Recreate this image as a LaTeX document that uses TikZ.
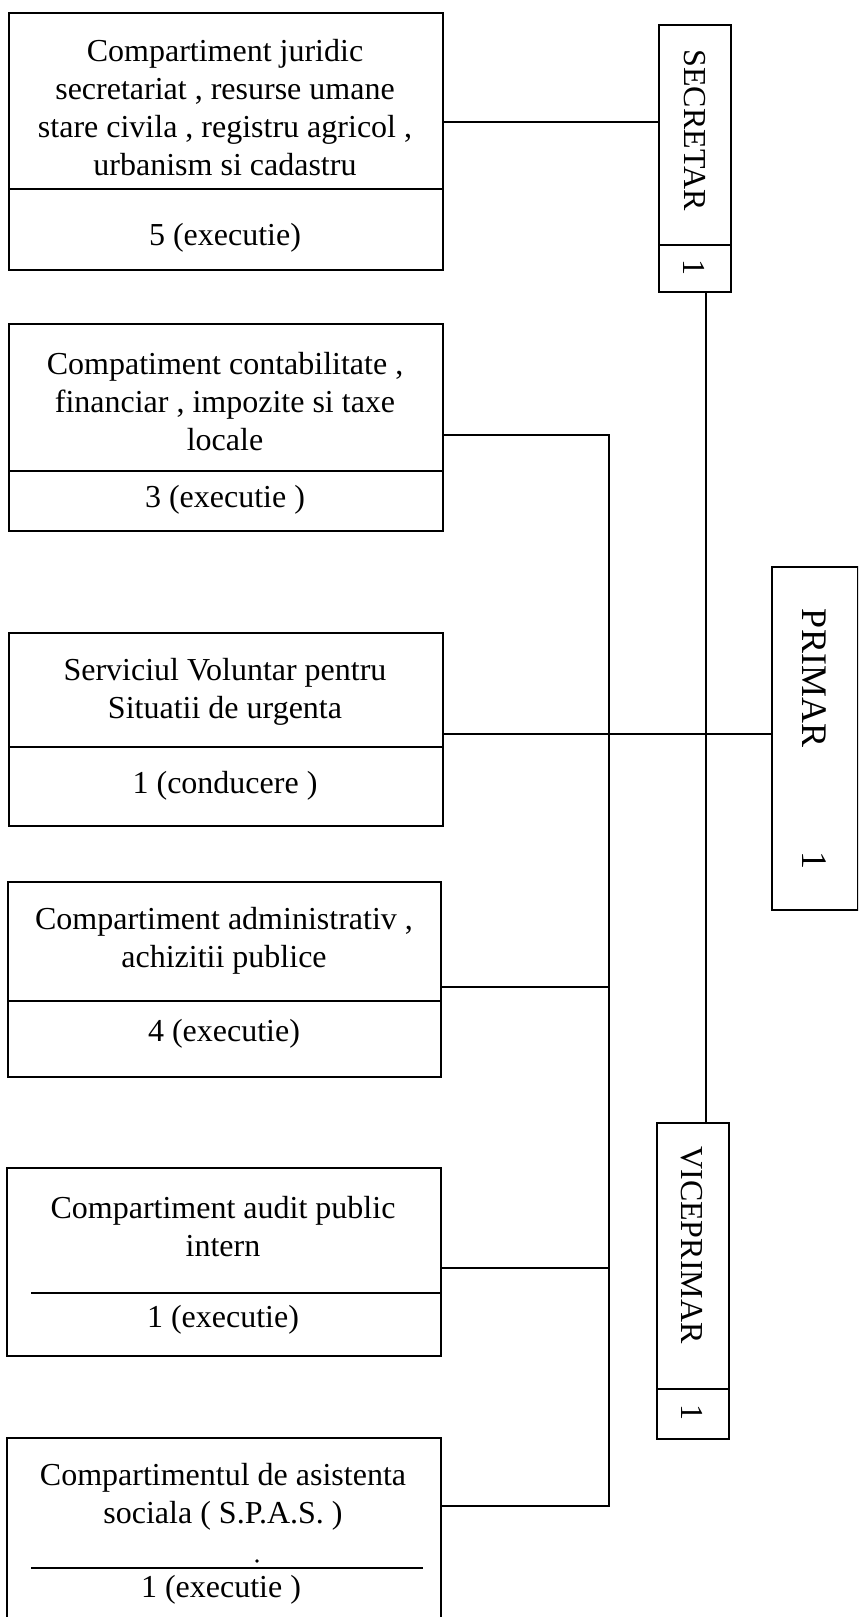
\documentclass[tikz,border=0pt]{standalone}
\usepackage{fontspec}
\setmainfont{Liberation Serif}
\begin{document}
\begin{tikzpicture}[x=0.5pt,y=-0.5pt,
  box/.style={draw, line width=0.9pt, inner sep=0pt, rectangle, anchor=north west},
  divider/.style={line width=0.9pt},
  link/.style={draw, line width=0.7pt},
  txt/.style={font=\fontsize{16}{19}\selectfont, align=center, inner sep=0pt},
  vtxt/.style={font=\fontsize{16}{19}\selectfont, inner sep=0pt, rotate=-90},
  ptxt/.style={font=\fontsize{18}{21}\selectfont, inner sep=0pt, rotate=-90}]
\clip (0,0) rectangle (858,1617);
\fill[white] (0,0) rectangle (858,1617);

% department boxes
\node[box, minimum width=217pt, minimum height=128.5pt] (b1) at (8,12) {};
\node[box, minimum width=217pt, minimum height=103.5pt] (b2) at (8,323) {};
\node[box, minimum width=217pt, minimum height=96.5pt] (b3) at (8,632) {};
\node[box, minimum width=216.5pt, minimum height=97.5pt] (b4) at (7,881) {};
\node[box, minimum width=217pt, minimum height=94pt] (b5) at (6,1167) {};
\node[box, minimum width=217pt, minimum height=100pt] (b6) at (6,1437) {};

% leadership boxes
\node[box, minimum width=36pt, minimum height=133.5pt] (s) at (658,24) {};
\node[box, minimum width=43pt, minimum height=171.5pt] (p) at (771,566) {};
\node[box, minimum width=36pt, minimum height=158pt] (v) at (656,1122) {};

% dividers
\draw[divider] (b1.west |- 0,189) -- (b1.east |- 0,189);
\draw[divider] (b2.west |- 0,471) -- (b2.east |- 0,471);
\draw[divider] (b3.west |- 0,747) -- (b3.east |- 0,747);
\draw[divider] (b4.west |- 0,1001) -- (b4.east |- 0,1001);
\draw[divider] (31,1293) -- (b5.east |- 0,1293);
\draw[divider] (31,1568) -- (423,1568);
\fill (257,1561) circle (0.9pt);
\draw[divider] (s.west |- 0,245) -- (s.east |- 0,245);
\draw[divider] (v.west |- 0,1389) -- (v.east |- 0,1389);

% texts
\node[txt] (b1t) at (225,108) {Compartiment juridic\\secretariat , resurse umane\\stare civila , registru agricol ,\\urbanism si cadastru};
\node[txt] (b1n) at (225,238) {5 (executie)};
\node[txt] (b2t) at (225,402) {Compatiment contabilitate ,\\financiar , impozite si taxe\\locale};
\node[txt] (b2n) at (225,500) {3 (executie )};
\node[txt] (b3t) at (225,692) {Serviciul Voluntar pentru\\Situatii de urgenta};
\node[txt] (b3n) at (225,786) {1 (conducere )};
\node[txt] (b4t) at (224,941) {Compartiment administrativ ,\\achizitii publice};
\node[txt] (b4n) at (224,1034) {4 (executie)};
\node[txt] (b5t) at (223,1227) {Compartiment audit public\\intern};
\node[txt] (b5n) at (223,1320) {1 (executie)};
\node[txt] (b6t) at (223,1497) {Compartimentul de asistenta\\sociala ( S.P.A.S. )};
\node[txt] (b6n) at (221,1590) {1 (executie )};

\node[vtxt] (st) at (695,130) {SECRETAR};
\node[vtxt] (sn) at (694,267) {1};
\node[ptxt] (pt) at (814,678) {PRIMAR};
\node[ptxt] (pn) at (814,860) {1};
\node[vtxt] (vt) at (692,1245) {VICEPRIMAR};
\node[vtxt] (vn) at (692,1412) {1};

% connectors
\coordinate (bus) at (609,435);
\coordinate (busend) at (609,1506);
\draw[link] (b1.east |- 0,122) -- (s.west |- 0,122);
\draw[link] (s.south -| 706,0) -- (v.north -| 706,0);
\draw[link] (b2.east |- bus) -- (bus) -- (busend) -- (b6.east |- busend);
\draw[link] (b3.east |- 0,734) -- (p.west |- 0,734);
\draw[link] (b4.east |- 0,987) -- (bus |- 0,987);
\draw[link] (b5.east |- 0,1268) -- (bus |- 0,1268);
\end{tikzpicture}
\end{document}
